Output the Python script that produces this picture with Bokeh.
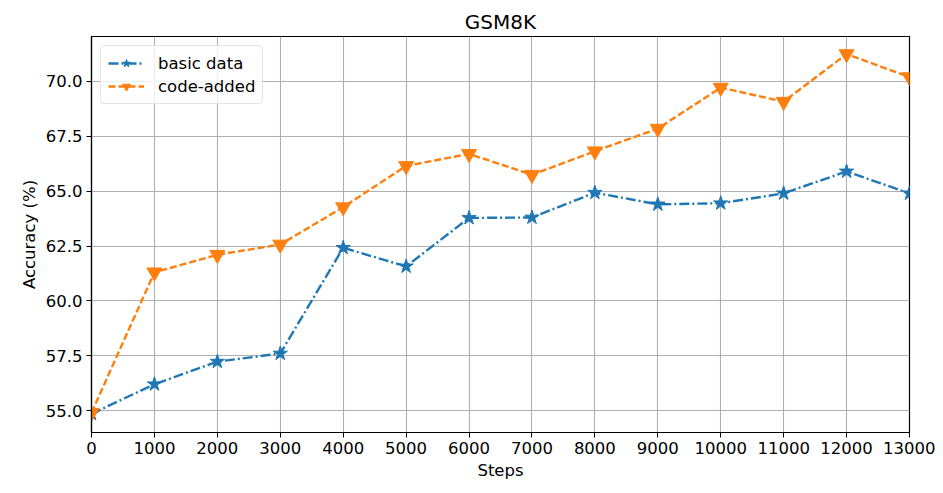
from bokeh.plotting import figure
from bokeh.models import Range1d, FixedTicker, PrintfTickFormatter
from bokeh.embed import file_html
from bokeh.resources import INLINE

steps = [0, 1000, 2000, 3000, 4000, 5000, 6000, 7000, 8000, 9000, 10000, 11000, 12000, 13000]
basic_data = [54.85, 56.2, 57.23, 57.6, 62.42, 61.57, 63.78, 63.8, 64.93, 64.4, 64.45, 64.9, 65.9, 64.9]
code_added = [54.9, 61.3, 62.1, 62.57, 64.27, 66.15, 66.7, 65.75, 66.82, 67.85, 69.72, 69.08, 71.25, 70.2]
x_ticks = [0, 1000, 2000, 3000, 4000, 5000, 6000, 7000, 8000, 9000, 10000, 11000, 12000, 13000]
y_ticks = [55.0, 57.5, 60.0, 62.5, 65.0, 67.5, 70.0]

FONT = "DejaVu Sans"

p = figure(width=935, height=485, output_backend="svg", toolbar_location=None,
           x_range=Range1d(0, 13000), y_range=Range1d(54.0, 72.05),
           min_border_left=91, min_border_right=26, min_border_top=36, min_border_bottom=53,
           title="GSM8K")
p.title.align = "center"
p.title.text_font = FONT
p.title.text_font_size = "20px"
p.title.text_font_style = "normal"
p.title.text_color = "black"
p.title.standoff = 6

p.outline_line_color = "black"
p.outline_line_width = 1.2

for ax in (p.xaxis[0], p.yaxis[0]):
    ax.axis_line_color = "black"
    ax.axis_line_width = 1.2
    ax.major_tick_line_color = "black"
    ax.major_tick_in = 0
    ax.major_tick_out = 5
    ax.minor_tick_line_color = None
    ax.major_label_text_font = FONT
    ax.major_label_text_font_size = "16.5px"
    ax.major_label_text_color = "black"
    ax.axis_label_text_font = FONT
    ax.axis_label_text_font_size = "16.5px"
    ax.axis_label_text_font_style = "normal"
    ax.axis_label_text_color = "black"

p.xaxis.ticker = FixedTicker(ticks=x_ticks)
p.yaxis.ticker = FixedTicker(ticks=y_ticks)
p.yaxis.formatter = PrintfTickFormatter(format="%.1f")
p.xaxis.axis_label = "Steps"
p.yaxis.axis_label = "Accuracy (%)"
p.xaxis.major_label_standoff = 4
p.yaxis.major_label_standoff = 4
p.xaxis.axis_label_standoff = 4
p.yaxis.axis_label_standoff = 4

p.grid.grid_line_color = "#b0b0b0"
p.grid.grid_line_width = 1.1

blue = "#1f77b4"
orange = "#ff7f0e"

p.line(steps, basic_data, line_color=blue, line_width=2.4, line_dash="10 3 2 3", legend_label="basic data")
p.scatter(steps, basic_data, marker="star", size=15, fill_color=blue, line_color=blue, legend_label="basic data")
p.line(steps, code_added, line_color=orange, line_width=2.4, line_dash="7 3", legend_label="code-added")
p.scatter(steps, code_added, marker="inverted_triangle", size=15, fill_color=orange, line_color=orange, legend_label="code-added")

lg = p.legend[0]
lg.location = "top_left"
lg.margin = 9
lg.padding = 7
lg.spacing = 3
lg.label_standoff = 14
lg.label_text_font = FONT
lg.label_text_font_size = "16.5px"
lg.label_text_color = "black"
lg.glyph_width = 36
lg.glyph_height = 20
lg.border_line_color = "#cccccc"
lg.border_line_width = 1
lg.background_fill_alpha = 0.8
lg.border_radius = 4

open("out.html", "w").write(file_html(p, INLINE))
